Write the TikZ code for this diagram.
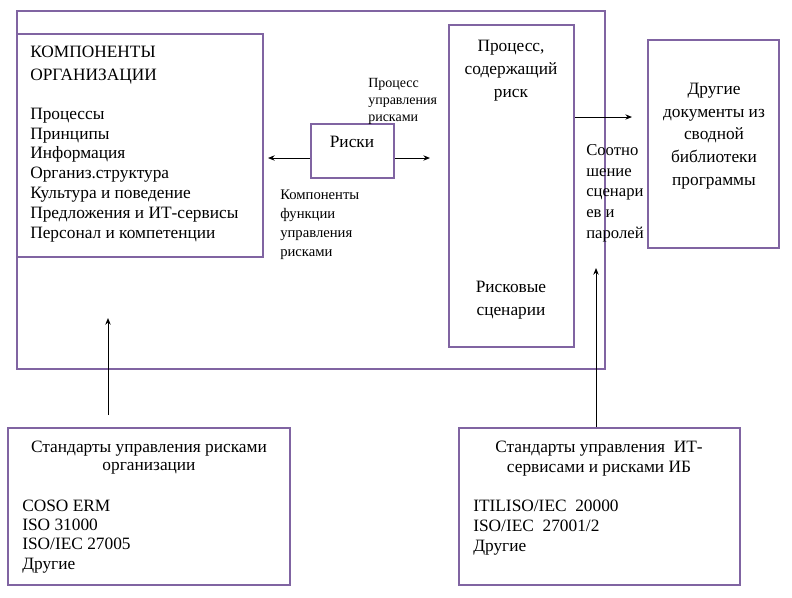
\documentclass[tikz,border=0pt]{standalone}
\usepackage{fontspec}
\setmainfont{Liberation Serif}
\usetikzlibrary{arrows.meta,fit,positioning}
\definecolor{boxline}{RGB}{128,100,162}

\begin{document}
\begin{tikzpicture}[
    x=0.75pt, y=-0.75pt,
    box/.style={draw=boxline, line width=2.2pt, inner sep=0pt},
    txt/.style={inner sep=0pt, align=left, font=\fontsize{13}{#1}\selectfont},
    txt/.default=15,
    lbl/.style={inner sep=0pt, align=left, font=\fontsize{10.5}{#1}\selectfont},
    lbl/.default=13,
    arr/.style={-{Stealth[length=5pt,width=4pt]}, line width=0.7pt}
  ]
  \useasboundingbox (0,0) rectangle (792,597);

  % boxes
  \node[box, fit={(17,11) (605,369)}]  (frame) {};
  \node[box, fit={(17,34) (263,257)}]  (org)   {};
  \node[box, fit={(311,124) (394,178)}] (risk)  {};
  \node[box, fit={(449,25) (574,347)}]  (proc)  {};
  \node[box, fit={(648,40) (779,248)}]  (docs)  {};
  \node[box, fit={(8,428) (290,585)}]   (std1)  {};
  \node[box, fit={(459,428) (740,585)}] (std2)  {};

  % texts in boxes (anchored at the baseline of the last line)
  \node[txt=17.25, anchor=base west] (orgHead) at (30,80) {КОМПОНЕНТЫ\\ОРГАНИЗАЦИИ};
  \node[txt=14.85, anchor=base west] (orgList) at (30,238)
    {Процессы\\Принципы\\Информация\\Организ.структура\\Культура и поведение\\Предложения и ИТ-сервисы\\Персонал и компетенции};
  \node[txt, anchor=base] (riskText) at (352,147) {Риски};
  \node[txt=16.9, anchor=base, align=center] (procHead) at (511,97) {Процесс,\\содержащий\\риск};
  \node[txt=16.9, anchor=base, align=center] (procFoot) at (511,315) {Рисковые\\сценарии};
  \node[txt=16.9, anchor=base, align=center] (docsText) at (714,185)
    {Другие\\документы из\\сводной\\библиотеки\\программы};
  \node[txt=13.5, anchor=base, align=center] (std1Head) at (149,470) {Стандарты управления рисками\\организации};
  \node[txt=14.5, anchor=base west] (std1List) at (22,569) {COSO ERM\\ISO 31000\\ISO/IEC 27005\\Другие};
  \node[txt=15, anchor=base, align=center] (std2Head) at (599,472) {Стандарты управления~~ИТ-\\сервисами и рисками ИБ};
  \node[txt=14.85, anchor=base west] (std2List) at (473,551) {ITILISO/IEC~~20000\\ISO/IEC~~27001/2\\Другие};

  % labels
  \node[lbl=12.75, anchor=base west] (lblProc) at (368,121) {Процесс\\управления\\рисками};
  \node[lbl=14.25, anchor=base west, font=\fontsize{11}{14.25}\selectfont] (lblComp) at (280,256) {Компоненты\\функции\\управления\\рисками};
  \node[txt=15.5, anchor=base west, font=\fontsize{12.5}{15.5}\selectfont] (lblScen) at (586,238) {Соотно\\шение\\сценари\\ев и\\паролей};

  % connector ends
  \coordinate (riskL) at (268,158);
  \coordinate (riskR) at (430,158);
  \coordinate (docsL) at (632,117);
  \coordinate (upL0)  at (108,415);
  \coordinate (upL1)  at (108,318);
  \coordinate (upR)   at (596,268);

  % connectors
  \draw[arr] (risk.west |- riskL) -- (riskL);
  \draw[arr] (risk.east |- riskR) -- (riskR);
  \draw[arr] (proc.east |- docsL) -- (docsL);
  \draw[arr] (upL0) -- (upL1);
  \draw[arr] (std2.north -| upR) -- (upR);
\end{tikzpicture}
\end{document}
